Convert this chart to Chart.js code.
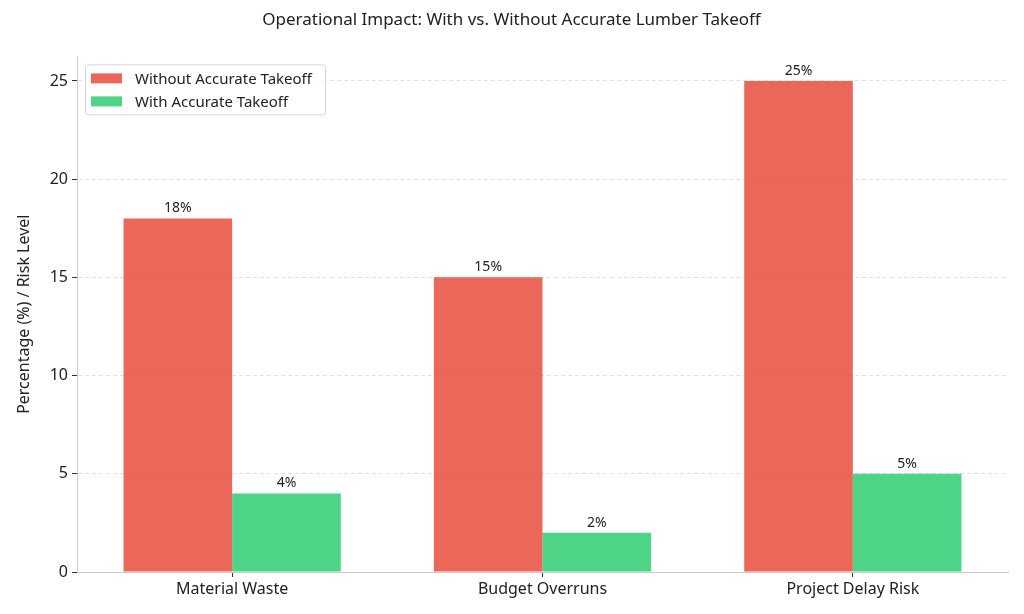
<!DOCTYPE html>
<html>
<head>
<meta charset="utf-8">
<script src="https://cdn.jsdelivr.net/npm/chart.js@4/dist/chart.umd.min.js"></script>
<style>
  html, body { margin: 0; padding: 0; background: #fff; }
  #wrap { width: 1024px; height: 614px; }
</style>
</head>
<body>
<div id="wrap"><canvas id="impactChart" width="1024" height="614"></canvas></div>
<script>
const categories = ['Material Waste', 'Budget Overruns', 'Project Delay Risk'];
const withoutTakeoff = [18, 15, 25];
const withTakeoff = [4, 2, 5];
const yTicks = [0, 5, 10, 15, 20, 25];

const FONT = "'Noto Sans', 'DejaVu Sans', sans-serif";

// value labels above each bar
const barLabels = {
    id: 'barLabels',
    afterDatasetsDraw(chart) {
        const ctx = chart.ctx;
        ctx.save();
        ctx.font = '14px ' + FONT;
        ctx.fillStyle = '#222';
        ctx.textAlign = 'center';
        ctx.textBaseline = 'bottom';
        chart.data.datasets.forEach((ds, i) => {
            chart.getDatasetMeta(i).data.forEach((bar, j) => {
                ctx.fillText(ds.data[j] + '%', bar.x, bar.y - 3);
            });
        });
        ctx.restore();
    }
};

// legend drawn inside the plot, upper left
const innerLegend = {
    id: 'innerLegend',
    afterDraw(chart) {
        const ctx = chart.ctx;
        const area = chart.chartArea;
        const x = area.left + 8, y = area.top + 8;
        ctx.save();
        ctx.fillStyle = 'rgba(255,255,255,0.85)';
        ctx.strokeStyle = '#d6d6d6';
        ctx.lineWidth = 1;
        ctx.beginPath();
        ctx.roundRect(x + 0.5, y + 0.5, 240, 50, 3);
        ctx.fill();
        ctx.stroke();
        ctx.font = '15px ' + FONT;
        ctx.textBaseline = 'middle';
        chart.data.datasets.forEach((ds, i) => {
            const cy = y + 14 + i * 23;
            ctx.fillStyle = ds.backgroundColor;
            ctx.fillRect(x + 6, cy - 5, 31, 10);
            ctx.fillStyle = '#222';
            ctx.fillText(ds.label, x + 50, cy + 1);
        });
        ctx.restore();
    }
};

const ctx = document.getElementById('impactChart').getContext('2d');
const impactChart = new Chart(ctx, {
    type: 'bar',
    data: {
        labels: categories,
        datasets: [
            {
                label: 'Without Accurate Takeoff',
                data: withoutTakeoff,
                backgroundColor: 'rgba(231, 76, 60, 0.85)',
                categoryPercentage: 0.7,
                barPercentage: 1.0
            },
            {
                label: 'With Accurate Takeoff',
                data: withTakeoff,
                backgroundColor: 'rgba(46, 204, 113, 0.85)',
                categoryPercentage: 0.7,
                barPercentage: 1.0
            }
        ]
    },
    plugins: [barLabels, innerLegend],
    options: {
        responsive: false,
        animation: false,
        layout: { padding: { left: 15, right: 16, top: 0, bottom: 0 } },
        scales: {
            x: {
                offset: true,
                afterFit(scale) { scale.height = 42; },
                grid: {
                    offset: false,
                    drawOnChartArea: false,
                    tickLength: 5,
                    tickColor: '#333'
                },
                border: { color: '#cccccc' },
                ticks: { color: '#222', font: { family: FONT, size: 16 }, padding: 3 }
            },
            y: {
                min: 0,
                max: 26.25,
                afterFit(scale) { scale.width = 62; },
                afterBuildTicks(scale) { scale.ticks = yTicks.map(v => ({ value: v })); },
                grid: {
                    color: '#e3e3e3',
                    tickLength: 5,
                    tickColor: '#333',
                    tickBorderDash: []
                },
                border: { color: '#cccccc', dash: [4, 3] },
                ticks: { color: '#222', font: { family: FONT, size: 16 }, padding: 4 },
                title: {
                    display: true,
                    text: 'Percentage (%) / Risk Level',
                    color: '#222',
                    font: { family: FONT, size: 16 },
                    padding: { top: 0, bottom: 4 }
                }
            }
        },
        plugins: {
            legend: { display: false },
            tooltip: { enabled: false },
            title: {
                display: true,
                text: 'Operational Impact: With vs. Without Accurate Lumber Takeoff',
                color: '#222',
                font: { family: FONT, size: 17, weight: 'normal' },
                padding: { top: 10, bottom: 26 }
            }
        }
    }
});
</script>
</body>
</html>
